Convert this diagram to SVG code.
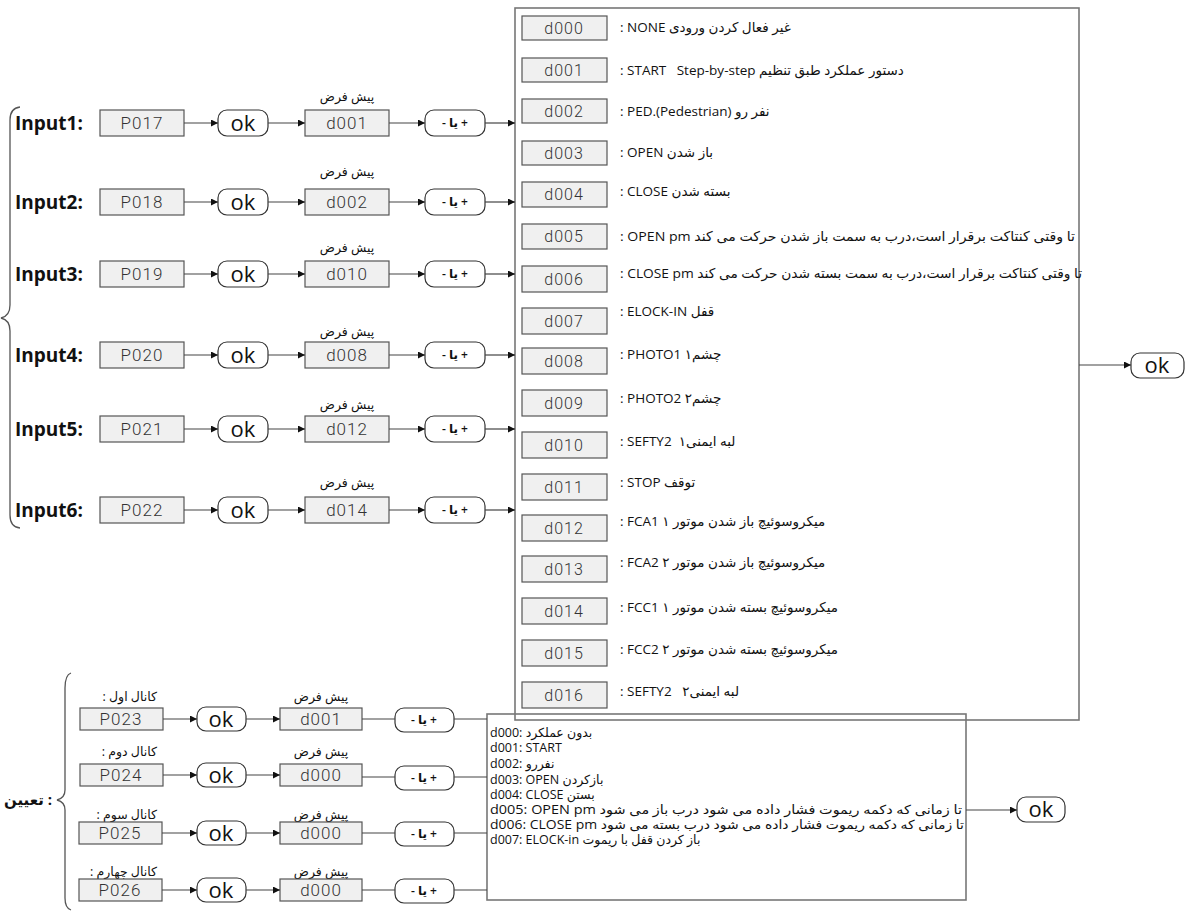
<svg xmlns="http://www.w3.org/2000/svg" width="1186" height="913" viewBox="0 0 1186 913">
<defs>
<marker id="ah" viewBox="0 0 10 10" refX="10" refY="5" markerWidth="7" markerHeight="7" orient="auto" markerUnits="userSpaceOnUse"><path d="M0,0 L10,5 L0,10 z" fill="#111"/></marker>
<style>
.box{fill:#f0f0f0;stroke:#555;stroke-width:1.2}
.pill{fill:#fff;stroke:#333;stroke-width:1.2}
.frame{fill:none;stroke:#777;stroke-width:1.6}
.conn{stroke:#444;stroke-width:1.2;fill:none}
.arr{stroke:#444;stroke-width:1.2;fill:none;marker-end:url(#ah)}
.brace{stroke:#555;stroke-width:1.3;fill:none}
.seg{font-family:"Roboto","DejaVu Sans",sans-serif;font-weight:300;font-size:17px;fill:#333;text-anchor:middle;letter-spacing:1px}
.segs{font-family:"Roboto","DejaVu Sans",sans-serif;font-weight:300;font-size:16px;fill:#333;text-anchor:middle;letter-spacing:1px}
.ok{font-family:"Open Sans","DejaVu Sans",sans-serif;font-size:22px;fill:#111;text-anchor:middle}
.pm{font-family:"Open Sans","DejaVu Sans",sans-serif;font-size:12px;font-weight:600;fill:#111;text-anchor:middle;white-space:pre}
.def{font-family:"Open Sans","DejaVu Sans",sans-serif;font-size:12.5px;fill:#111;text-anchor:middle}
.inp{font-family:"Open Sans","DejaVu Sans",sans-serif;font-weight:bold;font-size:19px;fill:#111}
.row{font-family:"Open Sans","DejaVu Sans",sans-serif;font-size:13.5px;fill:#111;white-space:pre}
.lrow{font-family:"Open Sans","DejaVu Sans",sans-serif;font-size:12.5px;fill:#111;white-space:pre}
.ch{font-family:"Open Sans","DejaVu Sans",sans-serif;font-size:12.5px;fill:#111}
.big{font-family:"Open Sans","DejaVu Sans",sans-serif;font-weight:bold;font-size:15px;fill:#111;text-anchor:end}
</style>
</defs>

<!-- frames -->
<g id="options-frame">
<rect class="frame" x="515" y="8" width="564" height="712"/>
</g>
<g id="remote-frame">
<rect class="frame" x="487" y="714" width="479" height="186" fill="#fff"/>
<text class="lrow" x="490" y="737">d000: بدون عملکرد</text>
<text class="lrow" x="490" y="752">d001: START</text>
<text class="lrow" x="490" y="768">d002: نفررو</text>
<text class="lrow" x="490" y="784">d003: OPEN بازکردن</text>
<text class="lrow" x="490" y="799">d004: CLOSE بستن</text>
<text class="lrow" x="490" y="814" textLength="472" lengthAdjust="spacingAndGlyphs">d005: OPEN pm تا زمانی که دکمه ریموت فشار داده می شود درب باز می شود</text>
<text class="lrow" x="490" y="829" textLength="474" lengthAdjust="spacingAndGlyphs">d006: CLOSE pm تا زمانی که دکمه ریموت فشار داده می شود درب بسته می شود</text>
<text class="lrow" x="490" y="844">d007: ELOCK-in باز کردن قفل با ریموت</text>
</g>

<!-- braces -->
<g id="brace-inputs"><path class="brace" d="M20,107 Q10,108 10,120 L10,305 Q10,316 1,318 Q10,320 10,331 L10,515 Q10,527 20,528"/></g>
<g id="brace-remote"><path class="brace" d="M71,673 Q65,675 65,688 L65,790 Q65,798 57,800 Q65,802 65,810 L65,898 Q65,908 71,910"/></g>
<g id="label-remote"><text class="big" x="52" y="805">تعیین :</text></g>

<!-- option list -->
<g id="opt-d000"><rect class="box" x="522" y="16" width="85" height="24"/><text class="segs" x="564" y="34">d000</text><text class="row" x="620" y="32">: NONE غیر فعال کردن ورودی</text></g>
<g id="opt-d001"><rect class="box" x="522" y="58" width="85" height="24"/><text class="segs" x="564" y="76">d001</text><text class="row" x="620" y="75">: START   Step-by-step دستور عملکرد طبق تنظیم</text></g>
<g id="opt-d002"><rect class="box" x="522" y="99" width="85" height="24"/><text class="segs" x="564" y="117">d002</text><text class="row" x="620" y="116">: PED.(Pedestrian) نفر رو</text></g>
<g id="opt-d003"><rect class="box" x="522" y="141" width="85" height="24"/><text class="segs" x="564" y="159">d003</text><text class="row" x="620" y="157">: OPEN باز شدن</text></g>
<g id="opt-d004"><rect class="box" x="522" y="182" width="85" height="25"/><text class="segs" x="564" y="200">d004</text><text class="row" x="620" y="196">: CLOSE بسته شدن</text></g>
<g id="opt-d005"><rect class="box" x="522" y="224" width="85" height="25"/><text class="segs" x="564" y="242">d005</text><text class="row" x="620" y="241" textLength="455" lengthAdjust="spacingAndGlyphs">: OPEN pm تا وقتی کنتاکت برقرار است،درب به سمت باز شدن حرکت می کند</text></g>
<g id="opt-d006"><rect class="box" x="522" y="266" width="85" height="26"/><text class="segs" x="564" y="285">d006</text><text class="row" x="620" y="278" textLength="462" lengthAdjust="spacingAndGlyphs">: CLOSE pm تا وقتی کنتاکت برقرار است،درب به سمت بسته شدن حرکت می کند</text></g>
<g id="opt-d007"><rect class="box" x="522" y="308" width="85" height="26"/><text class="segs" x="564" y="327">d007</text><text class="row" x="620" y="316">: ELOCK-IN قفل</text></g>
<g id="opt-d008"><rect class="box" x="522" y="348" width="85" height="26"/><text class="segs" x="564" y="367">d008</text><text class="row" x="620" y="359">: PHOTO1 چشم۱</text></g>
<g id="opt-d009"><rect class="box" x="522" y="390" width="85" height="26"/><text class="segs" x="564" y="409">d009</text><text class="row" x="620" y="403">: PHOTO2 چشم۲</text></g>
<g id="opt-d010"><rect class="box" x="522" y="432" width="85" height="26"/><text class="segs" x="564" y="451">d010</text><text class="row" x="620" y="446">: SEFTY2  لبه ایمنی۱</text></g>
<g id="opt-d011"><rect class="box" x="522" y="474" width="85" height="26"/><text class="segs" x="564" y="493">d011</text><text class="row" x="620" y="487">: STOP توقف</text></g>
<g id="opt-d012"><rect class="box" x="522" y="515" width="85" height="26"/><text class="segs" x="564" y="534">d012</text><text class="row" x="620" y="526">: FCA1 میکروسوئیچ باز شدن موتور ۱</text></g>
<g id="opt-d013"><rect class="box" x="522" y="556" width="85" height="26"/><text class="segs" x="564" y="575">d013</text><text class="row" x="620" y="567">: FCA2 میکروسوئیچ باز شدن موتور ۲</text></g>
<g id="opt-d014"><rect class="box" x="522" y="598" width="85" height="26"/><text class="segs" x="564" y="617">d014</text><text class="row" x="620" y="612">: FCC1 میکروسوئیچ بسته شدن موتور ۱</text></g>
<g id="opt-d015"><rect class="box" x="522" y="640" width="85" height="26"/><text class="segs" x="564" y="659">d015</text><text class="row" x="620" y="654">: FCC2 میکروسوئیچ بسته شدن موتور ۲</text></g>
<g id="opt-d016"><rect class="box" x="522" y="682" width="85" height="26"/><text class="segs" x="564" y="701">d016</text><text class="row" x="620" y="696">: SEFTY2   لبه ایمنی۲</text></g>

<!-- input rows -->
<g id="input1"><text class="inp" x="15" y="130">Input1:</text><rect class="box" x="100" y="110" width="84" height="26"/><text class="seg" x="142" y="129">P017</text><rect class="pill" x="218" y="110" width="50" height="26" rx="9"/><text class="ok" x="243" y="131">ok</text><text class="def" x="347" y="101">پیش فرض</text><rect class="box" x="305" y="110" width="84" height="26"/><text class="seg" x="347" y="129">d001</text><rect class="pill" x="425" y="110" width="60" height="26" rx="9"/><text class="pm" x="455" y="127">- یا +</text></g>
<g id="input2"><text class="inp" x="15" y="209">Input2:</text><rect class="box" x="100" y="189" width="84" height="26"/><text class="seg" x="142" y="208">P018</text><rect class="pill" x="218" y="189" width="50" height="26" rx="9"/><text class="ok" x="243" y="210">ok</text><text class="def" x="347" y="176">پیش فرض</text><rect class="box" x="305" y="189" width="84" height="26"/><text class="seg" x="347" y="208">d002</text><rect class="pill" x="425" y="189" width="60" height="26" rx="9"/><text class="pm" x="455" y="206">- یا +</text></g>
<g id="input3"><text class="inp" x="15" y="281">Input3:</text><rect class="box" x="100" y="261" width="84" height="26"/><text class="seg" x="142" y="280">P019</text><rect class="pill" x="218" y="261" width="50" height="26" rx="9"/><text class="ok" x="243" y="282">ok</text><text class="def" x="347" y="252">پیش فرض</text><rect class="box" x="305" y="261" width="84" height="26"/><text class="seg" x="347" y="280">d010</text><rect class="pill" x="425" y="261" width="60" height="26" rx="9"/><text class="pm" x="455" y="278">- یا +</text></g>
<g id="input4"><text class="inp" x="15" y="362">Input4:</text><rect class="box" x="100" y="342" width="84" height="26"/><text class="seg" x="142" y="361">P020</text><rect class="pill" x="218" y="342" width="50" height="26" rx="9"/><text class="ok" x="243" y="363">ok</text><text class="def" x="347" y="336">پیش فرض</text><rect class="box" x="305" y="342" width="84" height="26"/><text class="seg" x="347" y="361">d008</text><rect class="pill" x="425" y="342" width="60" height="26" rx="9"/><text class="pm" x="455" y="359">- یا +</text></g>
<g id="input5"><text class="inp" x="15" y="436">Input5:</text><rect class="box" x="100" y="416" width="84" height="26"/><text class="seg" x="142" y="435">P021</text><rect class="pill" x="218" y="416" width="50" height="26" rx="9"/><text class="ok" x="243" y="437">ok</text><text class="def" x="347" y="409">پیش فرض</text><rect class="box" x="305" y="416" width="84" height="26"/><text class="seg" x="347" y="435">d012</text><rect class="pill" x="425" y="416" width="60" height="26" rx="9"/><text class="pm" x="455" y="433">- یا +</text></g>
<g id="input6"><text class="inp" x="15" y="517">Input6:</text><rect class="box" x="100" y="497" width="84" height="26"/><text class="seg" x="142" y="516">P022</text><rect class="pill" x="218" y="497" width="50" height="26" rx="9"/><text class="ok" x="243" y="518">ok</text><text class="def" x="347" y="487">پیش فرض</text><rect class="box" x="305" y="497" width="84" height="26"/><text class="seg" x="347" y="516">d014</text><rect class="pill" x="425" y="497" width="60" height="26" rx="9"/><text class="pm" x="455" y="514">- یا +</text></g>

<!-- remote channel rows -->
<g id="ch1"><text class="ch" x="157" y="701" direction="rtl" text-anchor="start">کانال اول :</text><rect class="box" x="80" y="708" width="83" height="22"/><text class="seg" x="121" y="725">P023</text><rect class="pill" x="197" y="707" width="49" height="24" rx="9"/><text class="ok" x="221" y="727">ok</text><text class="def" x="321" y="701">پیش فرض</text><rect class="box" x="280" y="708" width="82" height="22"/><text class="seg" x="321" y="725">d001</text><rect class="pill" x="395" y="708" width="59" height="24" rx="9"/><text class="pm" x="424" y="724">- یا +</text></g>
<g id="ch2"><text class="ch" x="157" y="756" direction="rtl" text-anchor="start">کانال دوم :</text><rect class="box" x="80" y="764" width="83" height="22"/><text class="seg" x="121" y="781">P024</text><rect class="pill" x="197" y="763" width="49" height="24" rx="9"/><text class="ok" x="221" y="783">ok</text><text class="def" x="321" y="756">پیش فرض</text><rect class="box" x="280" y="764" width="82" height="22"/><text class="seg" x="321" y="781">d000</text><rect class="pill" x="395" y="766" width="59" height="24" rx="9"/><text class="pm" x="424" y="782">- یا +</text></g>
<g id="ch3"><text class="ch" x="157" y="819" direction="rtl" text-anchor="start">کانال سوم :</text><rect class="box" x="79" y="822" width="83" height="22"/><text class="seg" x="120" y="839">P025</text><rect class="pill" x="197" y="821" width="49" height="24" rx="9"/><text class="ok" x="221" y="841">ok</text><text class="def" x="321" y="819">پیش فرض</text><rect class="box" x="280" y="822" width="82" height="22"/><text class="seg" x="321" y="839">d000</text><rect class="pill" x="395" y="822" width="59" height="24" rx="9"/><text class="pm" x="424" y="838">- یا +</text></g>
<g id="ch4"><text class="ch" x="157" y="876" direction="rtl" text-anchor="start">کانال چهارم :</text><rect class="box" x="79" y="879" width="83" height="22"/><text class="seg" x="120" y="896">P026</text><rect class="pill" x="197" y="878" width="49" height="24" rx="9"/><text class="ok" x="221" y="898">ok</text><text class="def" x="321" y="876">پیش فرض</text><rect class="box" x="280" y="879" width="82" height="22"/><text class="seg" x="321" y="896">d000</text><rect class="pill" x="395" y="879" width="59" height="24" rx="9"/><text class="pm" x="424" y="895">- یا +</text></g>

<!-- final ok -->
<g id="ok-options"><rect class="pill" x="1131" y="353" width="53" height="25" rx="9"/><text class="ok" x="1157" y="373">ok</text></g>
<g id="ok-remote"><rect class="pill" x="1017" y="797" width="48" height="25" rx="9"/><text class="ok" x="1041" y="817">ok</text></g>

<!-- connectors -->
<g id="connectors">
<path class="arr" d="M184,123 H218"/><path class="arr" d="M268,123 H305"/><path class="arr" d="M389,123 H425"/><path class="arr" d="M485,123 H515"/>
<path class="arr" d="M184,202 H218"/><path class="arr" d="M268,202 H305"/><path class="arr" d="M389,202 H425"/><path class="arr" d="M485,202 H515"/>
<path class="arr" d="M184,274 H218"/><path class="arr" d="M268,274 H305"/><path class="arr" d="M389,274 H425"/><path class="arr" d="M485,274 H515"/>
<path class="arr" d="M184,355 H218"/><path class="arr" d="M268,355 H305"/><path class="arr" d="M389,355 H425"/><path class="arr" d="M485,355 H515"/>
<path class="arr" d="M184,429 H218"/><path class="arr" d="M268,429 H305"/><path class="arr" d="M389,429 H425"/><path class="arr" d="M485,429 H515"/>
<path class="arr" d="M184,510 H218"/><path class="arr" d="M268,510 H305"/><path class="arr" d="M389,510 H425"/><path class="arr" d="M485,510 H515"/>
<path class="arr" d="M163,719 H197"/><path class="arr" d="M246,719 H280"/><path class="conn" d="M362,719 H395"/><path class="conn" d="M454,719 H487"/>
<path class="arr" d="M163,775 H197"/><path class="arr" d="M246,775 H280"/><path class="conn" d="M362,777 H395"/><path class="conn" d="M454,777 H487"/>
<path class="arr" d="M162,833 H197"/><path class="arr" d="M246,833 H280"/><path class="conn" d="M362,833 H395"/><path class="conn" d="M454,833 H487"/>
<path class="arr" d="M162,890 H197"/><path class="arr" d="M246,890 H280"/><path class="conn" d="M362,890 H395"/><path class="conn" d="M454,890 H487"/>
<path class="arr" d="M1079,365 H1131"/>
<path class="arr" d="M966,810 H1017"/>
</g>
</svg>
